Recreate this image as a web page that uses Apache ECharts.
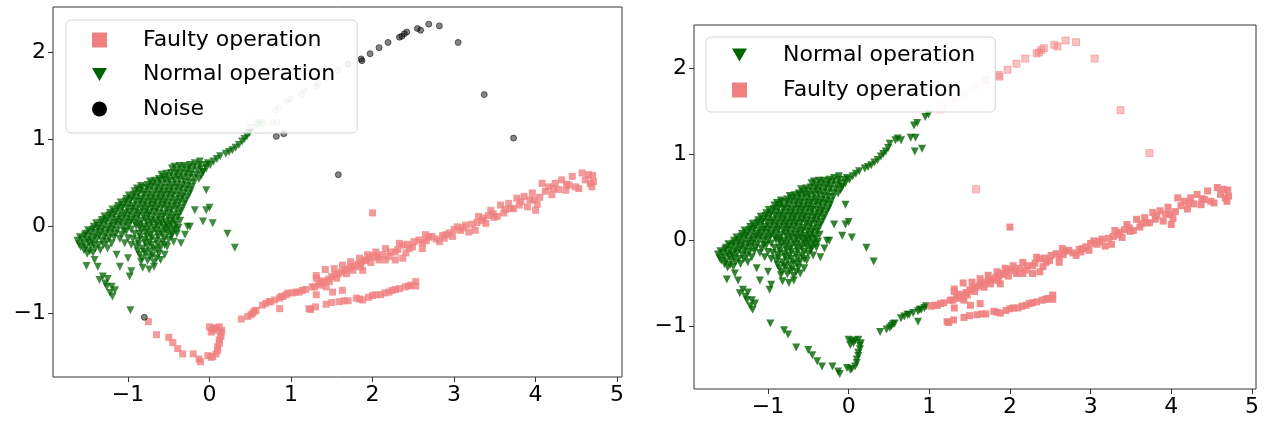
<!DOCTYPE html>
<html>
<head>
<meta charset="utf-8">
<script src="https://cdn.jsdelivr.net/npm/echarts@6/dist/echarts.min.js"></script>
<style>
  html, body { margin: 0; padding: 0; background: #fff; }
  #chart { width: 1265px; height: 424px; }
</style>
</head>
<body>
<div id="chart"></div>
<script>
// dense normal-operation cluster (green in both panels)
const normalCore = [
  [-0.24,0.70],[-0.18,0.72],[-0.12,0.70],
  [-0.46,0.66],[-0.40,0.64],[-0.34,0.66],[-0.28,0.64],[-0.22,0.63],[-0.15,0.64],[-0.08,0.62],
  [-0.62,0.54],[-0.56,0.56],[-0.50,0.57],[-0.44,0.56],[-0.38,0.57],[-0.32,0.56],[-0.26,0.55],[-0.19,0.55],[-0.13,0.54],
  [-0.84,0.46],[-0.76,0.47],[-0.70,0.49],[-0.64,0.48],[-0.58,0.48],[-0.52,0.49],[-0.46,0.47],[-0.40,0.48],[-0.34,0.47],[-0.28,0.46],[-0.22,0.45],
  [-0.92,0.40],[-0.86,0.41],[-0.80,0.39],[-0.74,0.41],[-0.68,0.40],[-0.62,0.40],[-0.56,0.39],[-0.50,0.40],[-0.44,0.39],[-0.38,0.40],[-0.32,0.38],[-0.25,0.37],
  [-1.02,0.31],[-0.96,0.32],[-0.90,0.33],[-0.84,0.31],[-0.78,0.32],[-0.72,0.32],[-0.66,0.31],[-0.60,0.32],[-0.54,0.31],[-0.48,0.32],[-0.42,0.30],[-0.36,0.31],[-0.30,0.29],
  [-1.12,0.23],[-1.06,0.24],[-1.00,0.25],[-0.94,0.23],[-0.88,0.24],[-0.82,0.24],[-0.76,0.23],[-0.70,0.24],[-0.64,0.23],[-0.58,0.24],[-0.52,0.23],[-0.46,0.22],[-0.40,0.23],[-0.34,0.21],
  [-1.22,0.15],[-1.16,0.16],[-1.10,0.17],[-1.04,0.15],[-0.98,0.16],[-0.92,0.16],[-0.86,0.15],[-0.80,0.16],[-0.74,0.15],[-0.68,0.16],[-0.62,0.15],[-0.56,0.14],[-0.50,0.15],[-0.44,0.13],[-0.38,0.14],
  [-1.32,0.07],[-1.26,0.08],[-1.20,0.09],[-1.14,0.07],[-1.08,0.08],[-1.02,0.08],[-0.96,0.07],[-0.90,0.08],[-0.84,0.06],[-0.78,0.08],[-0.72,0.07],[-0.66,0.06],[-0.60,0.07],[-0.54,0.05],[-0.48,0.06],[-0.42,0.05],[-0.36,0.06],
  [-1.42,-0.01],[-1.36,0.00],[-1.30,0.01],[-1.24,-0.01],[-1.18,0.00],[-1.12,0.01],[-1.06,-0.01],[-1.00,0.00],[-0.80,-0.01],[-0.74,0.00],[-0.68,-0.02],[-0.62,0.00],[-0.56,-0.02],[-0.50,-0.01],[-0.44,-0.03],[-0.38,-0.02],
  [-1.52,-0.09],[-1.46,-0.07],[-1.40,-0.08],[-1.34,-0.07],[-1.28,-0.09],[-1.22,-0.08],[-1.16,-0.09],[-1.08,-0.10],[-0.86,-0.09],[-0.78,-0.08],[-0.72,-0.10],[-0.64,-0.09],[-0.58,-0.10],[-0.52,-0.08],[-0.46,-0.10],[-0.40,-0.09],
  [-1.62,-0.17],[-1.56,-0.15],[-1.50,-0.16],[-1.44,-0.17],[-1.38,-0.15],[-1.32,-0.17],[-1.26,-0.18],[-0.88,-0.17],[-0.80,-0.16],[-0.74,-0.18],[-0.66,-0.17],[-0.58,-0.18],[-0.50,-0.16],[-0.44,-0.18],
  [-1.58,-0.24],[-1.52,-0.25],[-1.46,-0.23],[-1.40,-0.26],[-0.90,-0.24],[-0.82,-0.26],[-0.76,-0.24],[-0.68,-0.26],[-0.60,-0.25],[-0.52,-0.24],
  [-1.50,-0.32],[-1.43,-0.31],[-0.86,-0.33],[-0.78,-0.32],[-0.70,-0.34],[-0.62,-0.32],[-0.55,-0.33],
  [-0.84,-0.41],[-0.76,-0.40],[-0.68,-0.42],[-0.60,-0.39],
  [-0.82,-0.48],[-0.74,-0.50],[-0.68,-0.47],
  [-0.43,0.68],[-0.37,0.69],[-0.31,0.69],[-0.25,0.67],[-0.19,0.68],[-0.11,0.66],
  [-0.59,0.59],[-0.53,0.60],[-0.47,0.61],[-0.41,0.60],[-0.35,0.61],[-0.29,0.60],[-0.23,0.59],[-0.16,0.59],[-0.10,0.58],
  [-0.73,0.51],[-0.67,0.52],[-0.61,0.52],[-0.55,0.53],[-0.49,0.52],[-0.43,0.52],[-0.37,0.53],[-0.31,0.51],[-0.25,0.50],[-0.19,0.50],
  [-0.89,0.43],[-0.83,0.44],[-0.77,0.44],[-0.71,0.45],[-0.65,0.44],[-0.59,0.43],[-0.53,0.44],[-0.47,0.43],[-0.41,0.44],[-0.35,0.43],[-0.29,0.42],[-0.23,0.41],
  [-0.99,0.35],[-0.93,0.36],[-0.87,0.37],[-0.81,0.36],[-0.75,0.36],[-0.69,0.35],[-0.63,0.36],[-0.57,0.35],[-0.51,0.36],[-0.45,0.35],[-0.39,0.35],[-0.33,0.34],[-0.27,0.33],
  [-1.09,0.27],[-1.03,0.28],[-0.97,0.29],[-0.91,0.28],[-0.85,0.28],[-0.79,0.27],[-0.73,0.28],[-0.67,0.27],[-0.61,0.28],[-0.55,0.27],[-0.49,0.27],[-0.43,0.26],[-0.37,0.27],[-0.31,0.25],
  [-1.19,0.19],[-1.13,0.20],[-1.07,0.21],[-1.01,0.20],[-0.95,0.20],[-0.89,0.19],[-0.83,0.20],[-0.77,0.19],[-0.71,0.20],[-0.65,0.19],[-0.59,0.20],[-0.53,0.19],[-0.47,0.18],[-0.41,0.19],[-0.35,0.17],
  [-1.29,0.11],[-1.23,0.12],[-1.17,0.13],[-1.11,0.11],[-1.05,0.12],[-0.99,0.12],[-0.93,0.11],[-0.87,0.12],[-0.81,0.11],[-0.75,0.12],[-0.69,0.11],[-0.63,0.10],[-0.57,0.11],[-0.51,0.10],[-0.45,0.09],[-0.39,0.10],
  [-1.39,0.03],[-1.33,0.04],[-1.27,0.05],[-1.21,0.03],[-1.15,0.04],[-1.09,0.04],[-1.03,0.03],[-0.97,0.04],[-0.91,0.03],[-0.85,0.02],[-0.77,0.04],[-0.71,0.03],[-0.65,0.02],[-0.59,0.03],[-0.53,0.01],[-0.47,0.02],[-0.41,0.01],
  [-1.49,-0.05],[-1.43,-0.04],[-1.37,-0.03],[-1.31,-0.04],[-1.25,-0.05],[-1.19,-0.04],[-1.13,-0.05],[-1.05,-0.06],[-0.83,-0.05],[-0.77,-0.04],[-0.71,-0.06],[-0.65,-0.05],[-0.59,-0.06],[-0.53,-0.04],[-0.47,-0.06],[-0.41,-0.05],
  [-1.59,-0.13],[-1.53,-0.11],[-1.47,-0.12],[-1.41,-0.13],[-1.35,-0.11],[-1.29,-0.13],[-1.23,-0.14],[-1.17,-0.13],[-0.85,-0.13],[-0.77,-0.12],[-0.71,-0.14],[-0.63,-0.13],[-0.55,-0.14],[-0.47,-0.12],
  [-1.60,-0.21],[-1.54,-0.20],[-1.48,-0.19],[-1.42,-0.21],[-1.36,-0.22],[-0.87,-0.21],[-0.79,-0.20],[-0.71,-0.22],[-0.63,-0.21],[-0.55,-0.22],
  [-1.54,-0.28],[-1.47,-0.29],[-0.88,-0.29],[-0.80,-0.30],[-0.72,-0.29],[-0.64,-0.28],
  [-0.83,-0.37],[-0.73,-0.36],[-0.65,-0.37],
  [-1.02,-0.06],[-0.96,-0.04],[-0.92,-0.09],[-1.00,-0.14],[-0.94,-0.15],[-1.10,-0.15],[-1.04,-0.20],[-0.96,-0.22],
  [-1.20,-0.20],[-1.30,-0.22],[-1.25,-0.26],[-1.34,-0.28],[-0.90,0.00],[-0.86,-0.02]
];
const normalScatter = [
  [-1.51,-0.46],[-1.41,-0.39],[-1.37,-0.47],[-1.31,-0.58],[-1.26,-0.70],[-1.22,-0.77],[-1.16,-0.74],[-1.19,-0.81],
  [-1.14,-0.33],[-1.10,-0.47],[-0.98,-0.58],[-0.96,-0.52],[-1.00,-0.37],[-1.25,-0.61],[-1.35,-0.62],[-1.28,-0.66],[-1.20,-0.70],
  [-0.04,0.41],[-0.18,0.18],[-0.04,0.18],[0.00,0.21],[-0.08,0.05],[0.04,0.03],[-0.27,-0.01],[-0.24,-0.01],
  [0.22,-0.09],[0.31,-0.25],[-0.35,-0.20],[-0.30,-0.10],[-0.97,-0.97]
];
const normalArm = [
  [-0.08,0.62],[-0.04,0.66],[0.01,0.70],[0.05,0.74],[0.09,0.77],[0.13,0.80],[0.20,0.83],[0.24,0.85],
  [0.28,0.87],[0.32,0.90],[0.36,0.93],[0.40,0.97],[0.43,1.00],[0.46,1.03],[0.49,1.07],[-0.02,0.72],[-0.12,0.74],[-0.05,0.70]
];
// [x, y, membership]: faint normal points on the left, normal on the right
const armFade = [[0.51,1.12,0.25],[0.58,1.16,0.2],[0.61,1.18,0.18],[0.65,1.16,0.2]];
// noise on the left, normal on the right
const noiseToNormal = [
  [0.77,1.19,0.15],[0.83,1.19,0.15],[0.81,1.33,0.15],[0.85,1.36,0.15],[0.95,1.43,0.15],[0.99,1.46,0.15],
  [0.82,1.03,0.6],[0.91,1.06,0.6],[-0.80,-1.05,0.6]
];
// noise on the left, faulty on the right
const noiseToFaulty = [
  [1.13,1.51,0.15],[1.16,1.56,0.15],[1.31,1.61,0.15],[1.33,1.64,0.15],[1.43,1.70,0.15],[1.57,1.79,0.18],[1.70,1.86,0.3],
  [1.86,1.92,0.6],[1.87,1.90,0.6],[1.97,1.98,0.6],[2.08,2.05,0.6],[2.19,2.11,0.6],[2.33,2.17,0.6],[2.36,2.18,0.6],
  [2.39,2.21,0.6],[2.42,2.23,0.6],[2.55,2.27,0.6],[2.59,2.25,0.6],[2.69,2.32,0.6],[2.82,2.30,0.6],
  [3.05,2.11,0.6],[3.37,1.51,0.6],[3.73,1.01,0.6],[1.58,0.59,0.6]
];
// hook and lower branch: faulty on the left, normal on the right
const faultyHook = [
  [-0.75,-1.10],[-0.65,-1.25],[-0.50,-1.28],[-0.45,-1.34],[-0.39,-1.41],[-0.33,-1.47],[-0.20,-1.47],[-0.13,-1.53],[-0.11,-1.56],
  [-0.02,-1.49],[0.02,-1.51],[0.04,-1.50],[0.08,-1.47],[0.10,-1.43],[0.10,-1.39],[0.12,-1.35],[0.12,-1.31],[0.14,-1.27],
  [0.14,-1.23],[0.15,-1.20],[0.12,-1.16],[0.08,-1.17],[0.04,-1.18],[0.00,-1.16],[0.02,-1.22],[0.06,-1.20],
  [0.39,-1.07],[0.47,-1.04],[0.51,-1.02],[0.53,-1.00],[0.55,-0.98],[0.57,-0.97],[0.65,-0.91],[0.69,-0.89],[0.73,-0.87],
  [0.75,-0.87],[0.80,-0.85],[0.86,-0.83],[0.88,-0.81],[0.90,-0.81],[0.86,-0.95],[0.94,-0.79],[0.96,-0.77]
];
// faulty band (pink in both panels)
const faultyBand = [
  [1.02,-0.77],[1.06,-0.76],[1.10,-0.76],[1.14,-0.74],[1.18,-0.73],[1.24,-0.96],[1.22,-0.95],[1.26,-0.70],[1.29,-0.70],
  [1.31,-0.60],[1.31,-0.57],[1.31,-0.79],[1.34,-0.66],[1.38,-0.63],[1.42,-0.50],[1.43,-0.70],[1.43,-0.90],[1.46,-0.61],
  [1.50,-0.58],[1.51,-0.76],[1.53,-0.49],[1.54,-0.56],[1.58,-0.55],[1.59,-0.87],[1.62,-0.53],[1.63,-0.45],[1.63,-0.74],
  [1.66,-0.51],[1.70,-0.49],[1.73,-0.41],[1.74,-0.47],[1.78,-0.46],[1.80,-0.83],[1.82,-0.44],[1.84,-0.37],[1.86,-0.42],
  [1.88,-0.85],[1.88,-0.51],[1.90,-0.40],[1.92,-0.39],[1.94,-0.33],[1.96,-0.36],[1.98,-0.42],[2.00,0.15],[2.02,-0.34],
  [2.04,-0.30],[2.04,-0.79],[2.08,-0.39],[2.10,-0.79],[2.12,-0.33],[2.16,-0.26],[2.16,-0.39],[2.20,-0.35],[2.24,-0.74],
  [2.28,-0.39],[2.28,-0.30],[2.33,-0.20],[2.33,-0.72],[2.37,-0.22],[2.37,-0.37],[2.41,-0.31],[2.45,-0.26],[2.47,-0.68],
  [2.49,-0.24],[2.53,-0.64],[2.53,-0.69],[2.57,-0.16],[2.61,-0.26],[2.61,-0.19],[2.65,-0.10],[2.69,-0.13],[2.73,-0.12],
  [2.78,-0.15],[2.82,-0.18],[2.86,-0.11],[2.90,-0.10],[2.94,-0.08],[2.98,-0.12],[3.04,-0.01],[3.08,-0.05],[3.14,0.01],
  [3.18,-0.07],[3.22,0.02],[3.26,-0.05],[3.30,0.11],[3.34,0.06],[3.39,0.03],[3.42,0.12],[3.45,0.18],[3.49,0.10],
  [3.53,0.11],[3.57,0.24],[3.61,0.15],[3.67,0.26],[3.70,0.20],[3.73,0.20],[3.77,0.32],[3.82,0.28],[3.86,0.34],
  [3.90,0.22],[3.93,0.30],[3.96,0.38],[4.00,0.18],[4.02,0.25],[4.08,0.49],[4.12,0.40],[4.16,0.45],[4.20,0.36],
  [4.24,0.49],[4.28,0.42],[4.32,0.53],[4.37,0.41],[4.41,0.47],[4.45,0.57],[4.49,0.45],[4.53,0.43],[4.57,0.61],
  [4.61,0.53],[4.65,0.59],[4.67,0.49],[4.69,0.45],[4.71,0.51],[4.70,0.58],
  [1.30,-0.93],[1.50,-0.88],[1.65,-0.86],[1.70,-0.86],[1.84,-0.84],[1.95,-0.82],[2.00,-0.80],[2.15,-0.77],
  [2.20,-0.76],[2.28,-0.73],[2.40,-0.70],[2.44,-0.69],
  [1.36,-0.68],[1.40,-0.65],[1.47,-0.64],[1.56,-0.60],[1.68,-0.55],[1.76,-0.51],[1.85,-0.47],[2.06,-0.36],
  [2.22,-0.30],[2.31,-0.27],[2.43,-0.21],[2.51,-0.18],[2.66,-0.17],[2.88,-0.14],[3.00,-0.04],[3.11,-0.02],
  [3.28,0.04],[3.36,0.09],[3.48,0.14],[3.63,0.19],[3.80,0.24],[3.98,0.30],[4.05,0.33],[4.22,0.43],[4.38,0.48]
];
const xTicks = [-1, 0, 1, 2, 3, 4, 5];
const yTicks = [-1, 0, 1, 2];

const FAULTY = 'Faulty operation', NORMAL = 'Normal operation', NOISE = 'Noise';
const pink = '#F08080', green = '#006400';
const font = 'DejaVu Sans';
const downTri = 'path://M0,0 L10,0 L5,8.66 Z';
const minus = v => String(v).replace('-', '\u2212');
const xy = arr => arr.map(p => [p[0], p[1]]);
// per-point alpha from the membership column
const faded = (arr, rgb) => arr.map(p => ({
  value: [p[0], p[1]],
  itemStyle: { color: 'rgba(' + rgb + ',' + p[2] + ')', borderColor: 'rgba(' + rgb + ',' + Math.min(1, p[2] * 1.4) + ')', borderWidth: 0.8 }
}));

function axis(grid, min, max, ticks) {
  return {
    type: 'value', gridIndex: grid, min: min, max: max,
    splitLine: { show: false },
    axisLine: { show: false, onZero: false },
    axisTick: { show: true, length: 5, customValues: ticks, lineStyle: { color: '#333' } },
    axisLabel: { customValues: ticks, fontSize: 22, fontFamily: font, color: '#000', margin: 7, formatter: minus }
  };
}

const tri = { symbol: 'triangle', symbolRotate: 180, symbolSize: 8 };
const sq = { symbol: 'rect', symbolSize: 7 };
const legendBox = {
  orient: 'vertical', itemWidth: 15, itemHeight: 15,
  backgroundColor: 'rgba(255,255,255,0.8)', borderColor: '#d4d4d4', borderWidth: 1, borderRadius: 5,
  textStyle: { fontSize: 22, fontFamily: font, color: '#000', lineHeight: 26, padding: [0, 0, 0, 31] }
};

let chart = echarts.init(document.getElementById('chart'));
chart.setOption({
  animation: false,
  grid: [
    { left: 53, top: 7, width: 569, height: 370, show: true, borderColor: '#333', borderWidth: 1 },
    { left: 694, top: 25, width: 562, height: 364, show: true, borderColor: '#333', borderWidth: 1 }
  ],
  xAxis: [axis(0, -1.92, 5.06, xTicks), axis(1, -1.917, 5.05, xTicks)],
  yAxis: [axis(0, -1.736, 2.517, yTicks), axis(1, -1.733, 2.5, yTicks)],
  legend: [Object.assign({
    left: 66, top: 20, padding: [7, 22, 11, 26], itemGap: 8.5,
    data: [
      { name: FAULTY, icon: 'rect', itemStyle: { color: pink, opacity: 1 } },
      { name: NORMAL, icon: downTri, itemStyle: { color: green, opacity: 1 } },
      { name: NOISE, icon: 'circle', itemStyle: { color: '#000', opacity: 1 } }
    ]
  }, legendBox), Object.assign({
    left: 706, top: 37, padding: [5, 20, 9, 26], itemGap: 9,
    data: [
      { name: NORMAL, icon: downTri, itemStyle: { color: green, opacity: 1 } },
      { name: FAULTY, icon: 'rect', itemStyle: { color: pink, opacity: 1 } }
    ]
  }, legendBox)],
  series: [
    // left panel
    Object.assign({ name: FAULTY, type: 'scatter', xAxisIndex: 0, yAxisIndex: 0,
      itemStyle: { color: pink }, data: faultyHook.concat(faultyBand) }, sq),
    Object.assign({ name: NORMAL, type: 'scatter', xAxisIndex: 0, yAxisIndex: 0,
      itemStyle: { color: green, opacity: 0.75 }, data: normalCore.concat(normalScatter, normalArm) }, tri),
    Object.assign({ name: NORMAL, type: 'scatter', xAxisIndex: 0, yAxisIndex: 0,
      data: faded(armFade, '0,100,0') }, tri),
    { name: NOISE, type: 'scatter', xAxisIndex: 0, yAxisIndex: 0, symbol: 'circle', symbolSize: 6,
      data: faded(noiseToNormal.concat(noiseToFaulty), '0,0,0') },
    // right panel
    Object.assign({ name: NORMAL, type: 'scatter', xAxisIndex: 1, yAxisIndex: 1,
      itemStyle: { color: green },
      data: normalCore.concat(normalScatter, normalArm, xy(armFade), xy(noiseToNormal), faultyHook) }, tri),
    Object.assign({ name: FAULTY, type: 'scatter', xAxisIndex: 1, yAxisIndex: 1,
      itemStyle: { color: pink, opacity: 0.9 }, data: faultyBand }, sq),
    Object.assign({ name: FAULTY, type: 'scatter', xAxisIndex: 1, yAxisIndex: 1,
      data: faded(noiseToFaulty, '240,128,128') }, sq)
  ]
});
</script>
</body>
</html>
